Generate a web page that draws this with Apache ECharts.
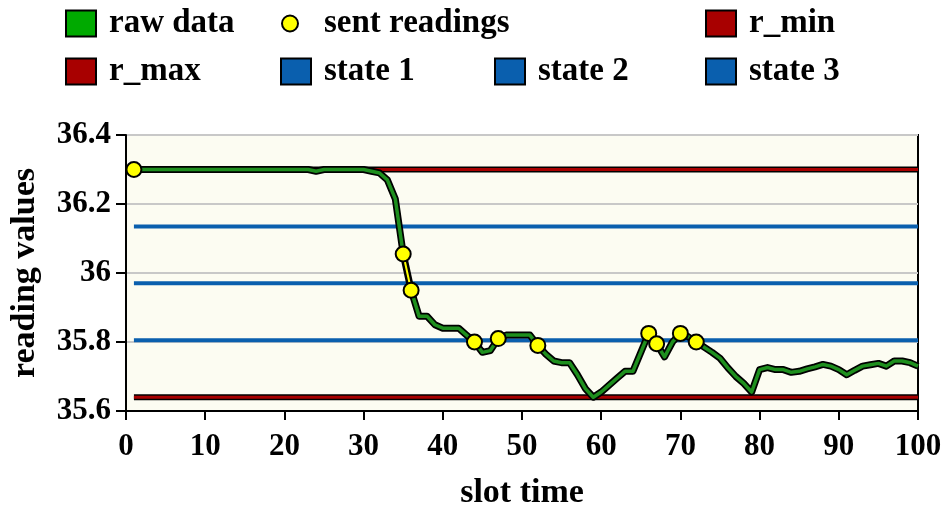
<!DOCTYPE html>
<html>
<head>
<meta charset="utf-8">
<script src="https://cdn.jsdelivr.net/npm/echarts@6/dist/echarts.min.js"></script>
<style>html,body{margin:0;padding:0;background:#fff}#c{width:944px;height:512px}</style>
</head>
<body>
<div id="c"></div>
<script>
// slot times 1..100
const slots = Array.from({length: 100}, (_, i) => i + 1);
const rawValues = [
  36.3,36.3,36.3,36.3,36.3,36.3,36.3,36.3,36.3,36.3,
  36.3,36.3,36.3,36.3,36.3,36.3,36.3,36.3,36.3,36.3,
  36.3,36.3,36.3,36.295,36.3,36.3,36.3,36.3,36.3,36.3,
  36.295,36.29,36.27,36.215,36.055,35.95,35.875,35.875,35.85,35.84,
  35.84,35.84,35.82,35.80,35.77,35.775,35.81,35.82,35.82,35.82,
  35.82,35.79,35.765,35.745,35.74,35.74,35.705,35.665,35.64,35.655,
  35.675,35.695,35.715,35.715,35.77,35.825,35.795,35.757,35.80,35.825,
  35.815,35.80,35.785,35.77,35.753,35.725,35.70,35.68,35.655,35.72,
  35.726,35.72,35.72,35.712,35.715,35.722,35.728,35.735,35.73,35.72,
  35.705,35.718,35.73,35.734,35.738,35.73,35.745,35.745,35.74,35.73
];
const sentSlots = [1, 35, 36, 44, 47, 52, 66, 67, 70, 72];
const sentValues = [36.3, 36.055, 35.95, 35.80, 35.81, 35.79, 35.825, 35.795, 35.825, 35.80];
const rMax = 36.3;
const rMin = 35.64;
const stateValues = [36.135, 35.97, 35.805];
const lineSpan = [1, 100];
const yTicks = {min: 35.6, max: 36.4, interval: 0.2};
const xTicks = {min: 0, max: 100, interval: 10};

const FONT = 'Liberation Serif';
const rawData = slots.map((x, i) => [x, rawValues[i]]);
const sentData = slots.map(x => {
  const k = sentSlots.indexOf(x);
  return [x, k >= 0 ? sentValues[k] : '-'];
});
const hline = v => lineSpan.map(x => [x, v]);

const RED = '#A80000', BLUE = '#0A5FAE', GREEN_LINE = '#1E8F1E', GREEN = '#00AA00', YELLOW = '#FFFF00';

const series = [
  {name: 'state 1', type: 'line', data: hline(stateValues[0]), showSymbol: false, silent: true,
   lineStyle: {color: BLUE, width: 4}, itemStyle: {color: BLUE}, z: 2},
  {name: 'state 2', type: 'line', data: hline(stateValues[1]), showSymbol: false, silent: true,
   lineStyle: {color: BLUE, width: 4}, itemStyle: {color: BLUE}, z: 2},
  {name: 'state 3', type: 'line', data: hline(stateValues[2]), showSymbol: false, silent: true,
   lineStyle: {color: BLUE, width: 4}, itemStyle: {color: BLUE}, z: 2},
  {name: 'rmin_outline', type: 'line', data: hline(rMin), showSymbol: false, silent: true,
   lineStyle: {color: '#000', width: 6}, z: 2},
  {name: 'r_min', type: 'line', data: hline(rMin), showSymbol: false, silent: true,
   lineStyle: {color: RED, width: 3}, itemStyle: {color: RED}, z: 2},
  {name: 'rmax_outline', type: 'line', data: hline(rMax), showSymbol: false, silent: true,
   lineStyle: {color: '#000', width: 6}, z: 2},
  {name: 'r_max', type: 'line', data: hline(rMax), showSymbol: false, silent: true,
   lineStyle: {color: RED, width: 3}, itemStyle: {color: RED}, z: 2},
  {name: 'raw_outline', type: 'line', data: rawData, showSymbol: false, silent: true,
   lineStyle: {color: '#000', width: 7, join: 'round'}, z: 3},
  {name: 'raw data', type: 'line', data: rawData, showSymbol: false, silent: true,
   lineStyle: {color: GREEN_LINE, width: 3.5, join: 'round'}, itemStyle: {color: GREEN}, z: 3},
  {name: 'sent_outline', type: 'line', data: sentData, showSymbol: false, silent: true,
   lineStyle: {color: '#000', width: 5}, z: 4},
  {name: 'sent readings', type: 'line', data: sentData, symbol: 'circle', symbolSize: 15, silent: true,
   lineStyle: {color: YELLOW, width: 2}, itemStyle: {color: YELLOW, borderColor: '#000', borderWidth: 2}, z: 5}
];

const legendText = {fontFamily: FONT, fontWeight: 'bold', fontSize: 33, color: '#000', padding: [0, 0, 0, 8]};
const mkLegend = (name, left, top, opts) => Object.assign({
  data: [name], left: left, top: top, padding: 0, itemGap: 0, itemWidth: 30, itemHeight: 26,
  icon: 'rect', itemStyle: {borderColor: '#000', borderWidth: 2}, textStyle: legendText,
  selectedMode: false
}, opts || {});

const option = {
  animation: false,
  backgroundColor: '#ffffff',
  legend: [
    mkLegend('raw data', 65, 7),
    mkLegend('sent readings', 281, 7, {icon: 'circle', itemWidth: 16, itemHeight: 16,
      itemStyle: {borderColor: '#000', borderWidth: 2},
      textStyle: Object.assign({}, legendText, {padding: [0, 0, 0, 21]})}),
    mkLegend('r_min', 705, 7),
    mkLegend('r_max', 65, 55),
    mkLegend('state 1', 280, 55),
    mkLegend('state 2', 494, 55),
    mkLegend('state 3', 705, 55)
  ],
  grid: {left: 126, right: 26, top: 135, bottom: 101, show: true, backgroundColor: '#FCFCF2',
         borderColor: '#000', borderWidth: 2, containLabel: false, outerBoundsMode: 'none'},
  xAxis: {
    type: 'value', min: xTicks.min, max: xTicks.max, interval: xTicks.interval,
    name: 'slot time', nameLocation: 'middle', nameGap: 65,
    nameTextStyle: {fontFamily: FONT, fontWeight: 'bold', fontSize: 34, color: '#000'},
    axisLine: {show: true, onZero: false, lineStyle: {color: '#000', width: 2}},
    axisTick: {show: true, length: 9, lineStyle: {color: '#000', width: 2}},
    axisLabel: {fontFamily: FONT, fontWeight: 'bold', fontSize: 31, color: '#000', margin: 20},
    splitLine: {show: false}
  },
  yAxis: {
    type: 'value', min: yTicks.min, max: yTicks.max, interval: yTicks.interval,
    name: 'reading values', nameLocation: 'middle', nameGap: 84,
    nameTextStyle: {fontFamily: FONT, fontWeight: 'bold', fontSize: 34, color: '#000'},
    axisLine: {show: true, lineStyle: {color: '#000', width: 2}},
    axisTick: {show: true, length: 10, lineStyle: {color: '#000', width: 2}},
    axisLabel: {fontFamily: FONT, fontWeight: 'bold', fontSize: 31, color: '#000', margin: 15},
    splitLine: {show: true, lineStyle: {color: '#C8C8C8', width: 2}}
  },
  series: series
};

const chart = echarts.init(document.getElementById('c'), null, {renderer: 'canvas'});
chart.setOption(option);
</script>
</body>
</html>
